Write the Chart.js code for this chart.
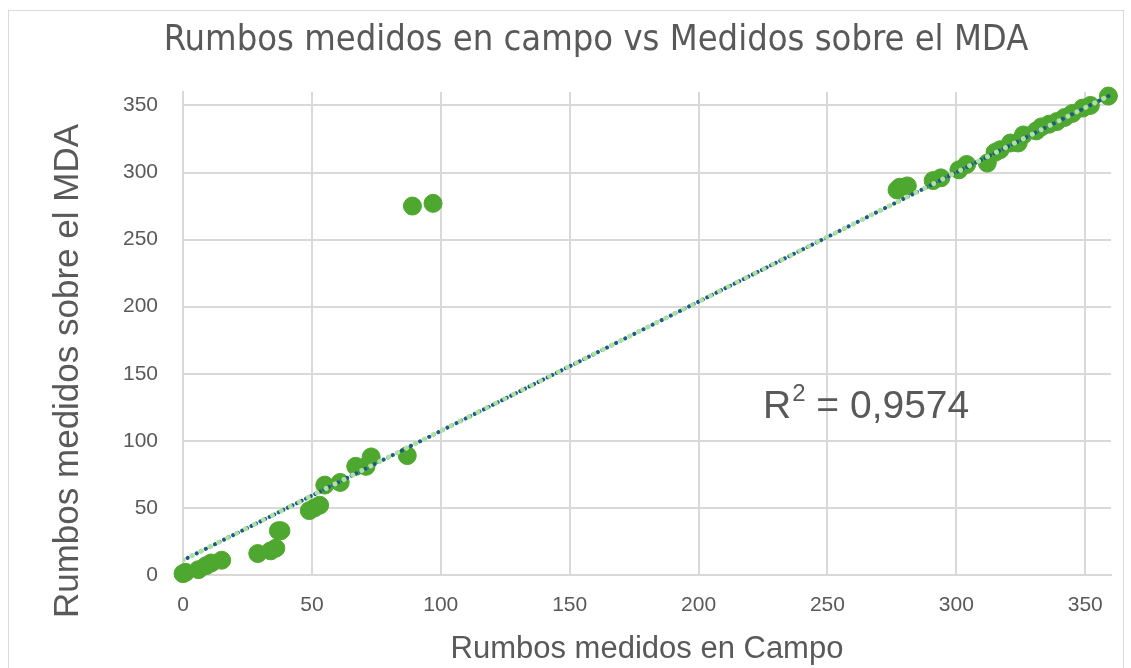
<!DOCTYPE html>
<html>
<head>
<meta charset="utf-8">
<script src="https://cdn.jsdelivr.net/npm/chart.js@4.4.1/dist/chart.umd.min.js"></script>
<style>
    html, body { margin: 0; padding: 0; background: #fff; }
    #frame {
        position: absolute; left: 8px; top: 10px; width: 1116px; height: 680px;
        border: 1px solid #d9d9d9; box-sizing: border-box;
    }
    #chart { position: absolute; left: 0; top: 0; }
</style>
</head>
<body>
<div id="frame"></div>
<canvas id="chart" width="1131" height="668"></canvas>
<script>
// --- Data ---
const campo = [0, 1, 6, 9, 11, 15, 29, 34, 36, 37, 38, 49, 51, 53, 55, 61, 67, 71, 73, 87,
    89, 97, 277, 278, 281, 291, 294, 301, 304, 312, 315, 317,
    321, 324, 326, 331, 333, 336, 339, 342, 345, 349, 352, 359];
const mda = [1, 2, 4, 7, 9, 11, 16, 18, 20, 33, 33, 48, 50, 52, 67, 69, 81, 81, 88, 89,
    275, 277, 287, 289, 290, 294, 296, 302, 306, 307, 315, 317,
    322, 322, 328, 331, 334, 336, 338, 341, 344, 348, 350, 357];

// Trendline end points (as drawn in the picture)
const trendX = [0, 359];
const trendY = [11, 357];

const axisTicks = [0, 50, 100, 150, 200, 250, 300, 350];
const chartTitle = "Rumbos medidos en campo vs Medidos sobre el MDA";
const yTitle = "Rumbos medidos sobre el MDA";
const xTitle = "Rumbos medidos en Campo";
const r2Label = "0,9574";

const textColor = "#595959";
const gridColor = "#d9d9d9";
const baseFont = '"Liberation Sans", Arial, sans-serif';
const narrowFont = '"Liberation Sans Narrow", "DejaVu Sans Condensed", "Roboto", sans-serif';

const points = campo.map((x, i) => ({ x: x, y: mda[i] }));
const trend = trendX.map((x, i) => ({ x: x, y: trendY[i] }));

// Chart title, y-axis title and R² label (Excel places them off-centre)
const textPlugin = {
    id: "extraText",
    afterDraw(chart) {
        const { ctx, scales } = chart;
        ctx.save();
        ctx.fillStyle = textColor;

        ctx.font = "36px " + narrowFont;
        ctx.textAlign = "center";
        ctx.textBaseline = "middle";
        ctx.fillText(chartTitle, 596, 41);

        ctx.save();
        ctx.translate(68, 371);
        ctx.rotate(-Math.PI / 2);
        ctx.font = "35px " + baseFont;
        ctx.fillText(yTitle, 0, 0);
        ctx.restore();

        const x = scales.x.getPixelForValue(225);
        const y = scales.y.getPixelForValue(117);
        ctx.textAlign = "left";
        ctx.textBaseline = "alphabetic";
        ctx.font = "39px " + baseFont;
        ctx.fillText("R", x, y);
        let w = ctx.measureText("R").width;
        ctx.font = "24px " + baseFont;
        ctx.fillText("2", x + w + 1, y - 17);
        w += ctx.measureText("2").width + 1;
        ctx.font = "39px " + baseFont;
        ctx.fillText(" = " + r2Label, x + w, y);
        ctx.restore();
    }
};

new Chart(document.getElementById("chart"), {
    type: "scatter",
    data: {
        datasets: [
            {
                label: "Rumbos",
                data: points,
                backgroundColor: "#4ea72e",
                borderColor: "#4ea72e",
                pointRadius: 9,
                pointHoverRadius: 9,
                clip: false,
                order: 3
            },
            {
                type: "line",
                label: "Lineal",
                data: trend,
                borderColor: "#1a5b8a",
                borderWidth: 4,
                borderDash: [0.1, 5],
                borderCapStyle: "round",
                pointRadius: 0,
                fill: false,
                order: 2
            },
            {
                type: "line",
                label: "Lineal 2",
                data: trend,
                borderColor: "#b0e0a0",
                borderWidth: 5,
                borderDash: [0.1, 9.9],
                borderCapStyle: "round",
                pointRadius: 0,
                fill: false,
                order: 1
            }
        ]
    },
    options: {
        responsive: false,
        animation: false,
        layout: { padding: { left: 0, right: 20, top: 92, bottom: 0 } },
        plugins: {
            legend: { display: false },
            tooltip: { enabled: false },
            title: { display: false }
        },
        scales: {
            x: {
                type: "linear",
                min: 0,
                max: 360,
                afterBuildTicks: (scale) => { scale.ticks = axisTicks.map(v => ({ value: v })); },
                afterFit: (scale) => { scale.height = 93; },
                grid: { color: gridColor, lineWidth: 2, drawTicks: false },
                border: { color: gridColor, width: 2 },
                ticks: { color: textColor, font: { family: baseFont, size: 21 }, padding: 18 },
                title: {
                    display: true,
                    text: xTitle,
                    color: textColor,
                    font: { family: baseFont, size: 31 },
                    padding: { top: 2, bottom: 0 }
                }
            },
            y: {
                type: "linear",
                min: 0,
                max: 360,
                afterBuildTicks: (scale) => { scale.ticks = axisTicks.map(v => ({ value: v })); },
                afterFit: (scale) => { scale.width = 183; },
                grid: { color: gridColor, lineWidth: 2, drawTicks: false },
                border: { color: gridColor, width: 2 },
                ticks: { color: textColor, font: { family: baseFont, size: 21 }, padding: 25 }
            }
        }
    },
    plugins: [textPlugin]
});
</script>
</body>
</html>
